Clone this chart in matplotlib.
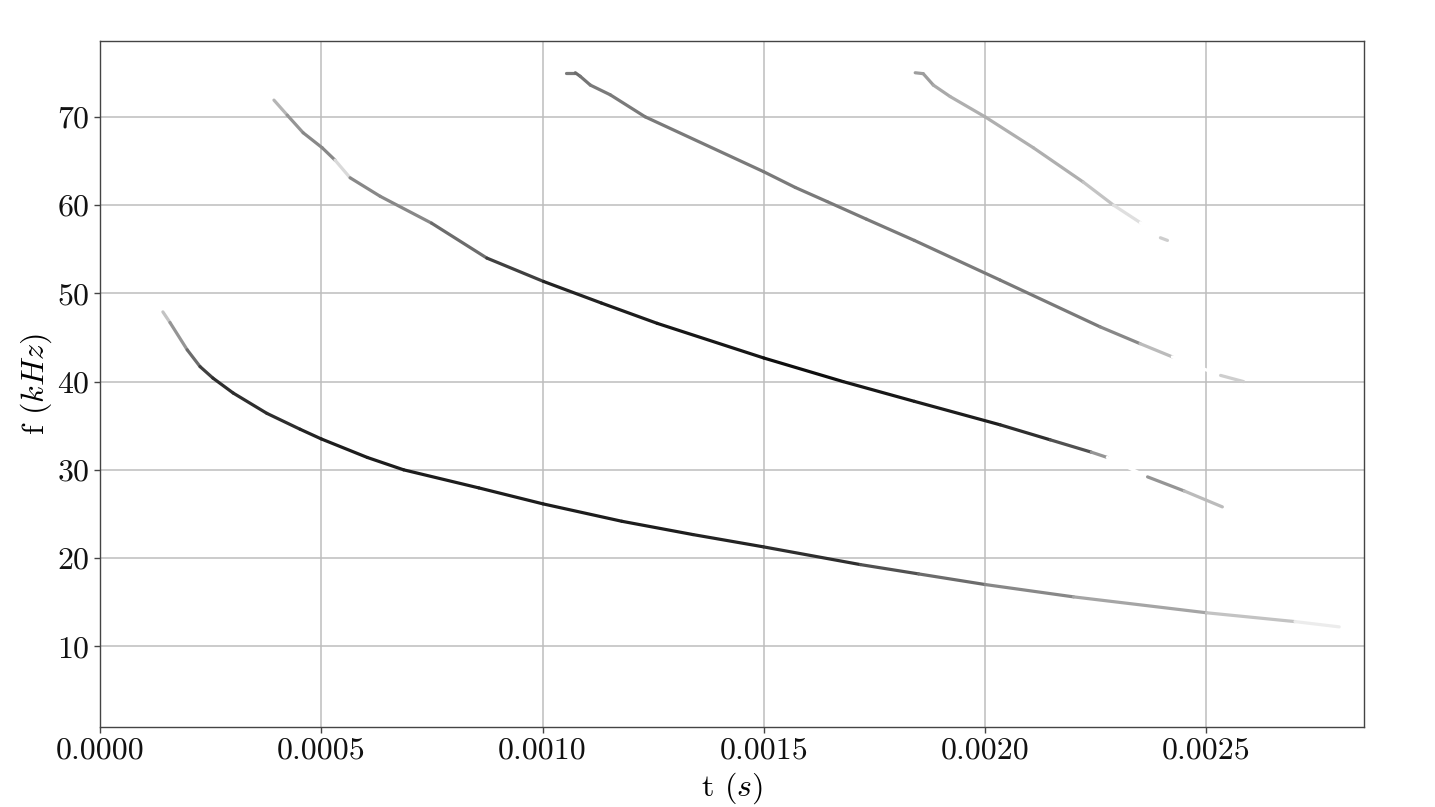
import numpy as np
import matplotlib
matplotlib.use("Agg")
import matplotlib.pyplot as plt
from matplotlib.collections import LineCollection
from matplotlib.ticker import FormatStrFormatter

plt.rcParams['font.family'] = 'serif'
plt.rcParams['font.serif'] = ['cmr10', 'DejaVu Serif']
plt.rcParams['mathtext.fontset'] = 'cm'
plt.rcParams['axes.formatter.use_mathtext'] = True

# ridge tracks: time (s), frequency (kHz),
# darkness of the piece that follows each point (0 white .. 1 black)
t1 = [0.000142, 0.000158, 0.000197, 0.000226, 0.000255, 0.000301, 0.000377, 0.000452,
      0.000500, 0.000604, 0.000686, 0.000856, 0.001001, 0.001179, 0.001340, 0.001499,
      0.001718, 0.001850, 0.002000, 0.002200, 0.002500, 0.002700, 0.002800]
f1 = [47.9, 46.7, 43.6, 41.7, 40.4, 38.7, 36.4, 34.6, 33.5, 31.4, 30.0, 27.95, 26.14,
      24.17, 22.66, 21.27, 19.26, 18.2, 17.0, 15.6, 13.8, 12.8, 12.2]
w1 = [0.35, 0.50, 0.65, 0.80, 0.85, 0.85, 0.85, 0.88, 0.90, 0.90, 0.90, 0.90, 0.90,
      0.90, 0.88, 0.85, 0.75, 0.65, 0.55, 0.45, 0.35, 0.15, 0.05]

t2 = [0.000393, 0.000423, 0.000459, 0.000502, 0.000531, 0.000565, 0.000633, 0.000749,
      0.000874, 0.001002, 0.001133, 0.001259, 0.001500, 0.001679, 0.001840, 0.002034,
      0.002147, 0.002240, 0.002276, 0.002367, 0.002450, 0.002536]
f2 = [71.9, 70.2, 68.2, 66.5, 65.1, 63.1, 61.0, 57.96, 54.0, 51.35, 48.9, 46.6, 42.67,
      40.0, 37.76, 35.1, 33.4, 32.0, 31.4, 29.2, 27.6, 25.8]
w2 = [0.40, 0.50, 0.55, 0.55, 0.25, 0.55, 0.55, 0.65, 0.80, 0.88, 0.90, 0.92, 0.95,
      0.92, 0.90, 0.85, 0.75, 0.50, 0.00, 0.50, 0.38, 0.20]

t3 = [0.001053, 0.001074, 0.001085, 0.001108, 0.001153, 0.001232, 0.001499, 0.001571,
      0.001643, 0.001732, 0.001840, 0.002034, 0.002260, 0.002350, 0.002423, 0.002532,
      0.002584]
f3 = [75.0, 75.0, 74.6, 73.6, 72.5, 70.0, 63.8, 62.0, 60.4, 58.4, 56.0, 51.5, 46.2,
      44.3, 42.8, 40.7, 40.0]
w3 = [0.60, 0.65, 0.62, 0.60, 0.60, 0.60, 0.60, 0.60, 0.60, 0.60, 0.60, 0.60, 0.55,
      0.38, 0.00, 0.30, 0.10]

t4 = [0.001842, 0.001860, 0.001883, 0.001921, 0.002000, 0.002109, 0.002222, 0.002290,
      0.002351, 0.002396, 0.002412]
f4 = [75.0, 74.9, 73.6, 72.3, 70.0, 66.5, 62.6, 60.0, 58.0, 56.3, 56.0]
w4 = [0.48, 0.48, 0.44, 0.42, 0.42, 0.42, 0.35, 0.22, 0.00, 0.30, 0.20]

tracks = [(t1, f1, w1), (t2, f2, w2), (t3, f3, w3), (t4, f4, w4)]


def ridge(ax, t, f, w):
    '''draw one track as segments shaded by darkness'''
    pts = np.column_stack([t, f]).reshape(-1, 1, 2)
    segs = np.concatenate([pts[:-1], pts[1:]], axis=1)
    lc = LineCollection(segs, cmap='Greys', linewidths=2.3, capstyle='round',
                        joinstyle='round', zorder=3)
    lc.set_array(np.asarray(w)[:-1])
    lc.set_clim(0, 1)
    ax.add_collection(lc)


fig = plt.figure(figsize=(14.35, 8.07), dpi=100)
ax = fig.add_axes([0.0697, 0.0991, 0.8805, 0.8501])

for t, f, w in tracks:
    ridge(ax, t, f, w)

ax.set_xlim(0, 0.002855)
ax.set_ylim(0.85, 78.6)
ax.set_xticks([0, 0.0005, 0.0010, 0.0015, 0.0020, 0.0025])
ax.set_yticks([10, 20, 30, 40, 50, 60, 70])
ax.xaxis.set_major_formatter(FormatStrFormatter('%.4f'))
ax.grid(True, color='#bdbdbd', linewidth=1.1, zorder=0)
ax.set_axisbelow(True)
ax.tick_params(direction='out', length=4, width=1, colors='#444444', labelsize=23,
               labelcolor='#111111')
for s in ax.spines.values():
    s.set_color('#444444')
    s.set_linewidth(1.0)

ax.set_xlabel(r't $(s)$', fontsize=23, labelpad=4)
ax.set_ylabel(r'f $(kHz)$', fontsize=23, labelpad=2)

fig.savefig('out.png', dpi=100)
